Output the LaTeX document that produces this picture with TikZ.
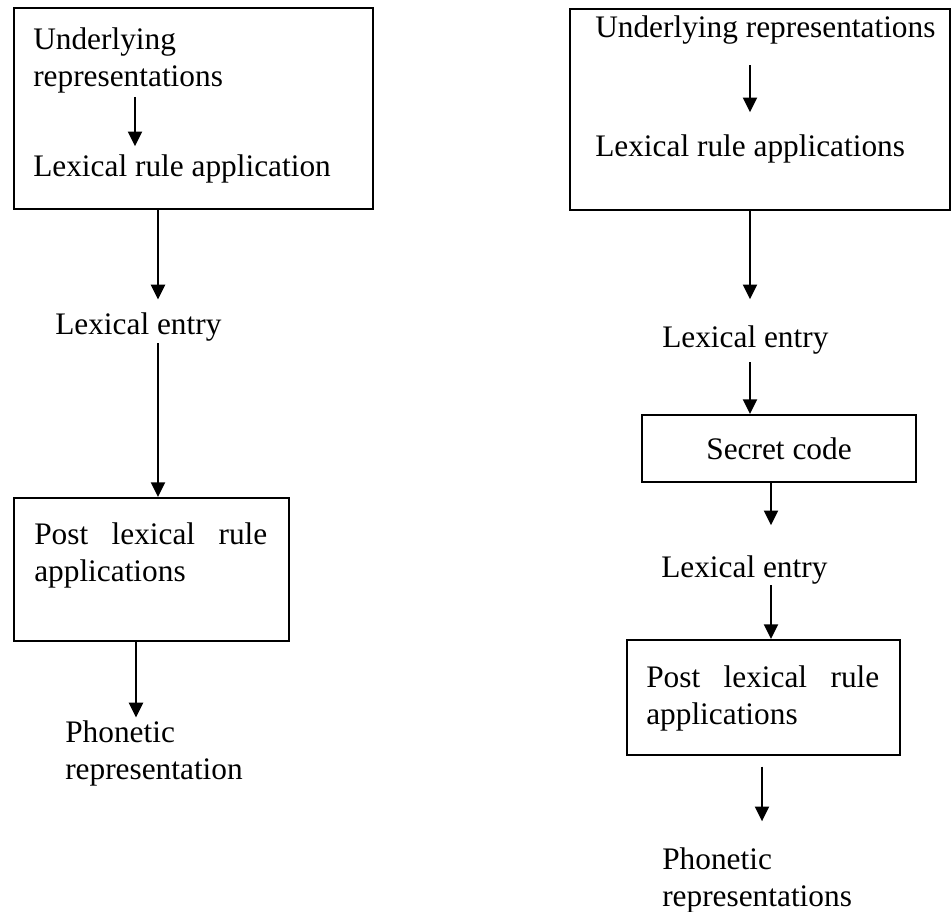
\documentclass[tikz,border=0pt]{standalone}
\usepackage{fontspec}
\setmainfont{Liberation Serif}
\usetikzlibrary{arrows.meta, positioning, calc}

\begin{document}
\begin{tikzpicture}[x=0.75pt, y=-0.75pt,
    >={Triangle[length=11pt, width=10.5pt]},
    every node/.style={font=\fontsize{23.5pt}{27.75pt}\selectfont},
    stagebox/.style={draw, line width=1.5pt, inner sep=0pt},
    term/.style={inner sep=0pt, anchor=base west, align=left},
    para/.style={inner sep=0pt, anchor=base west, text width=174.75pt,
                 align=justify},
    flow/.style={->, line width=1.5pt}]
  \useasboundingbox (0,0) rectangle (951,912);
  % arrow columns
  \coordinate (colA) at (135,0);
  \coordinate (colB) at (158,0);
  \coordinate (colC) at (136,0);
  \coordinate (colD) at (750,0);
  \coordinate (colE) at (771,0);
  \coordinate (colF) at (762,0);

  % left chain (two-line terms sit on their last baseline)
  \node[stagebox, anchor=north west, minimum width=269.25pt,
        minimum height=150.75pt] (box1) at (13,7) {};
  \node[term] (ur1) at (33,87) {Underlying\\representations};
  \node[term] (lra1) at (33,177) {Lexical rule application};
  \node[term] (le1) at (55,335) {Lexical entry};
  \node[stagebox, anchor=north west, minimum width=206.25pt,
        minimum height=107.25pt] (box2) at (13,497) {};
  \node[para] (plr1) at (34,545) {Post lexical rule applications};
  \node[term] (ph1) at (65,780) {Phonetic\\representation};

  \draw[flow, shorten <=2.25pt, shorten >=6.5pt]
    (ur1.south -| colA) -- (lra1.north -| colA);
  \draw[flow, shorten >=10.2pt] (box1.south -| colB) -- (le1.north -| colB);
  \draw[flow, shorten <=1pt] (le1.south -| colB) -- (box2.north -| colB);
  \draw[flow, shorten >=2.7pt] (box2.south -| colC) -- (ph1.north -| colC);

  % right chain
  \node[stagebox, anchor=north west, minimum width=285pt,
        minimum height=150.75pt] (box3) at (569,8) {};
  \node[term] (ur2) at (595,38) {Underlying representations};
  \node[term] (lra2) at (595,157) {Lexical rule applications};
  \node[term] (le2) at (662,348) {Lexical entry};
  \node[stagebox, minimum width=205.5pt, minimum height=50.25pt]
    (code) at (779,448.5) {Secret code};
  \node[term] (le3) at (661,578) {Lexical entry};
  \node[stagebox, anchor=north west, minimum width=204.75pt,
        minimum height=86.25pt] (box4) at (626,639) {};
  \node[para] (plr2) at (646,688) {Post lexical rule applications};
  \node[term] (ph2) at (662,907) {Phonetic\\representations};

  \draw[flow, shorten <=15pt, shorten >=17pt]
    (ur2.south -| colD) -- (lra2.north -| colD);
  \draw[flow, shorten >=20pt] (box3.south -| colD) -- (le2.north -| colD);
  \draw[flow, shorten <=5.3pt] (le2.south -| colD) -- (code.north -| colD);
  \draw[flow, shorten >=23pt] (code.south -| colE) -- (le3.north -| colE);
  \draw[flow] (le3.south -| colE) -- (box4.north -| colE);
  \draw[flow, shorten <=8pt, shorten >=20pt]
    (box4.south -| colF) -- (ph2.north -| colF);
\end{tikzpicture}
\end{document}
